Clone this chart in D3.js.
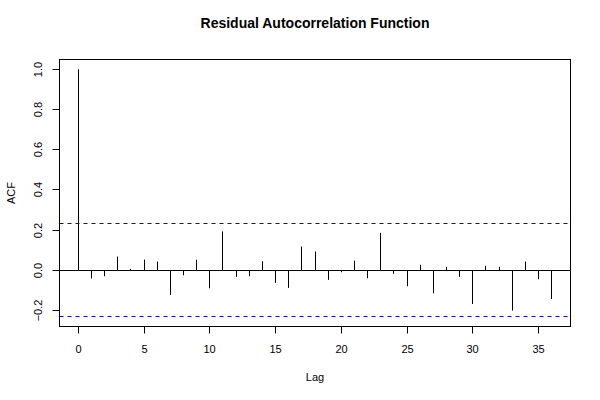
<!DOCTYPE html>
<html>
<head>
<meta charset="utf-8">
<script src="https://cdn.jsdelivr.net/npm/d3@7"></script>
<style>
  html, body { margin: 0; padding: 0; background: #fff; }
  svg text { font-family: "Liberation Sans", Arial, Helvetica, sans-serif; fill: #000; }
</style>
</head>
<body>
<script>
// ---- data ----
const lags = [0,1,2,3,4,5,6,7,8,9,10,11,12,13,14,15,16,17,18,19,20,21,22,23,24,25,26,27,28,29,30,31,32,33,34,35,36];
const acfValues = [1.000,-0.041,-0.030,0.068,0.007,0.053,0.043,-0.123,-0.025,0.052,-0.090,0.193,
                   -0.033,-0.030,0.045,-0.063,-0.088,0.118,0.093,-0.048,-0.010,0.048,-0.040,0.186,
                   -0.018,-0.080,0.027,-0.115,0.017,-0.033,-0.168,0.022,0.017,-0.201,0.043,-0.045,-0.143];
const confLimit = 0.231;
const xTicks = [0,5,10,15,20,25,30,35];
const yTicks = [-0.2,0.0,0.2,0.4,0.6,0.8,1.0];
const yTickLabels = ["\u22120.2","0.0","0.2","0.4","0.6","0.8","1.0"];
const title = "Residual Autocorrelation Function";
const xLabel = "Lag";
const yLabel = "ACF";

(function () {
// ---- layout ----
const W = 600, H = 400;
const pL = 59.5, pR = 570.5, pT = 59.5, pB = 326.5;

const svg = d3.select("body").append("svg").attr("width", W).attr("height", H);

const xMin = d3.min(lags), xMax = d3.max(lags);
const xPad = (xMax - xMin) * 0.04;
const x = d3.scaleLinear().domain([xMin - xPad, xMax + xPad]).range([pL, pR]);

const yLo = Math.min(-confLimit, d3.min(acfValues)), yHi = Math.max(confLimit, d3.max(acfValues));
const yPad = (yHi - yLo) * 0.04;
const y = d3.scaleLinear().domain([yLo - yPad, yHi + yPad]).range([pB, pT]);

const snap = v => Math.round(v - 0.5) + 0.5;

// zero line
svg.append("line")
  .attr("x1", pL).attr("x2", pR)
  .attr("y1", snap(y(0))).attr("y2", snap(y(0)))
  .attr("stroke", "#000").attr("stroke-width", 1);

// bars
svg.append("g").selectAll("line").data(lags).join("line")
  .attr("x1", d => snap(x(d))).attr("x2", d => snap(x(d)))
  .attr("y1", snap(y(0)))
  .attr("y2", (d, i) => y(acfValues[i]))
  .attr("stroke", "#000").attr("stroke-width", 1);

// confidence lines
[confLimit, -confLimit].forEach(c => {
  svg.append("line")
    .attr("x1", pL).attr("x2", pR)
    .attr("y1", snap(y(c))).attr("y2", snap(y(c)))
    .attr("stroke", "#0000ff").attr("stroke-width", 1)
    .attr("stroke-dasharray", "4,4");
});

// box
svg.append("rect")
  .attr("x", pL).attr("y", pT)
  .attr("width", pR - pL).attr("height", pB - pT)
  .attr("fill", "none").attr("stroke", "#000").attr("stroke-width", 1);

// x axis
const xAxis = d3.axisBottom(x).tickValues(xTicks).tickFormat(d3.format("d"))
  .tickSizeOuter(0).tickSizeInner(7).tickPadding(12);
const gx = svg.append("g").attr("transform", `translate(0,${pB})`).call(xAxis);
gx.select(".domain").remove();
gx.selectAll(".tick").attr("transform", d => `translate(${snap(x(d))},0)`);
gx.selectAll(".tick line").attr("stroke", "#000");
gx.selectAll("text").attr("font-size", 11)
  .style("font-family", "Liberation Sans, Arial, sans-serif").attr("fill", "#000");

// y axis
const yAxis = d3.axisLeft(y).tickValues(yTicks).tickFormat((d, i) => yTickLabels[i])
  .tickSizeOuter(0).tickSizeInner(7).tickPadding(0);
const gy = svg.append("g").attr("transform", `translate(${pL},0)`).call(yAxis);
gy.select(".domain").remove();
gy.selectAll(".tick").attr("transform", d => `translate(0,${snap(y(d))})`);
gy.selectAll(".tick line").attr("stroke", "#000");
gy.selectAll(".tick text")
  .attr("x", null).attr("dy", null)
  .attr("text-anchor", "middle")
  .attr("transform", "translate(-18,0) rotate(-90)")
  .attr("font-size", 11)
  .style("font-family", "Liberation Sans, Arial, sans-serif")
  .attr("fill", "#000");

// title
svg.append("text").attr("x", (pL + pR) / 2).attr("y", 28)
  .attr("text-anchor", "middle").attr("font-weight", "bold").attr("font-size", 14)
  .text(title);

// axis labels
svg.append("text").attr("x", (pL + pR) / 2).attr("y", 381)
  .attr("text-anchor", "middle").attr("font-size", 11).text(xLabel);
svg.append("text").attr("transform", `translate(15,${(pT + pB) / 2}) rotate(-90)`)
  .attr("text-anchor", "middle").attr("font-size", 11).text(yLabel);
})();
</script>
</body>
</html>
